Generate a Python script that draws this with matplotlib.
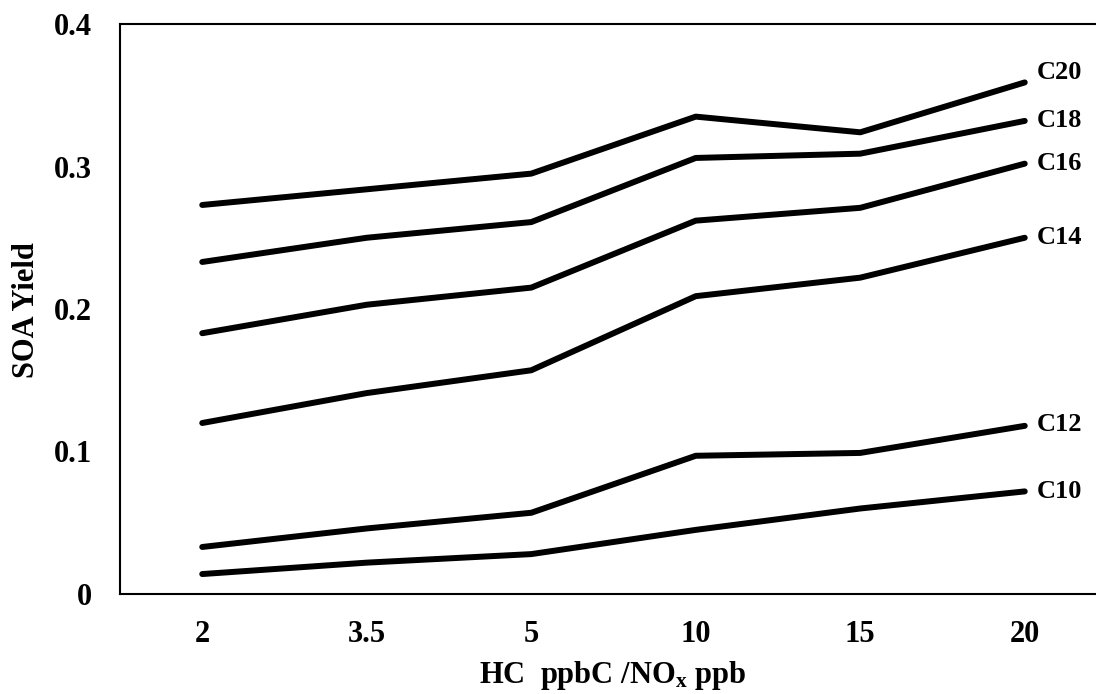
import matplotlib
matplotlib.use("Agg")
import matplotlib.pyplot as plt

plt.rcParams['font.family'] = ['Liberation Serif', 'DejaVu Serif']
plt.rcParams['font.weight'] = 'bold'
plt.rcParams['mathtext.fontset'] = 'stix'

categories = ['2', '3.5', '5', '10', '15', '20']
c20 = [0.273, 0.284, 0.295, 0.335, 0.324, 0.359]
c18 = [0.233, 0.250, 0.261, 0.306, 0.309, 0.332]
c16 = [0.183, 0.203, 0.215, 0.262, 0.271, 0.302]
c14 = [0.120, 0.141, 0.157, 0.209, 0.222, 0.250]
c12 = [0.033, 0.046, 0.057, 0.097, 0.099, 0.118]
c10 = [0.014, 0.022, 0.028, 0.045, 0.060, 0.072]
series = [('C20', c20), ('C18', c18), ('C16', c16), ('C14', c14), ('C12', c12), ('C10', c10)]
label_dy = [7, 0, 0, 0, 1, 0]

W, H = 1096, 694
fig = plt.figure(figsize=(W / 100, H / 100), dpi=100)
left, right, top, bottom = 120, 1107, 24, 594
ax = fig.add_axes([left / W, (H - bottom) / H, (right - left) / W, (bottom - top) / H])

x = list(range(len(categories)))
for (name, vals), dy in zip(series, label_dy):
    ax.plot(x, vals, color='black', lw=4.3, solid_capstyle='round', solid_joinstyle='round')
    ax.annotate(name, xy=(x[-1], vals[-1]), xytext=(9, dy), textcoords='offset points',
                ha='left', va='center', fontsize=19, fontweight='bold', annotation_clip=False)

ax.set_xlim(-0.5, len(categories) - 0.5)
ax.set_ylim(0, 0.4)
ax.set_xticks(x)
ax.set_xticklabels(categories)
ax.set_yticks([0, 0.1, 0.2, 0.3, 0.4])
ax.set_yticklabels(['0', '0.1', '0.2', '0.3', '0.4'])
ax.tick_params(axis='both', length=0, labelsize=22)
ax.tick_params(axis='x', pad=18.5)
ax.tick_params(axis='y', pad=20)
for sp in ax.spines.values():
    sp.set_linewidth(1.5)

fig.text(613 / W, (H - 683) / H, r'HC  ppbC /NO$_\mathregular{x}$ ppb', fontsize=22,
         fontweight='bold', ha='center', va='baseline')
fig.text(26 / W, (H - 310) / H, 'SOA Yield', fontsize=22, fontweight='bold',
         rotation=90, ha='center', va='center')

fig.savefig('out.png', dpi=100)
